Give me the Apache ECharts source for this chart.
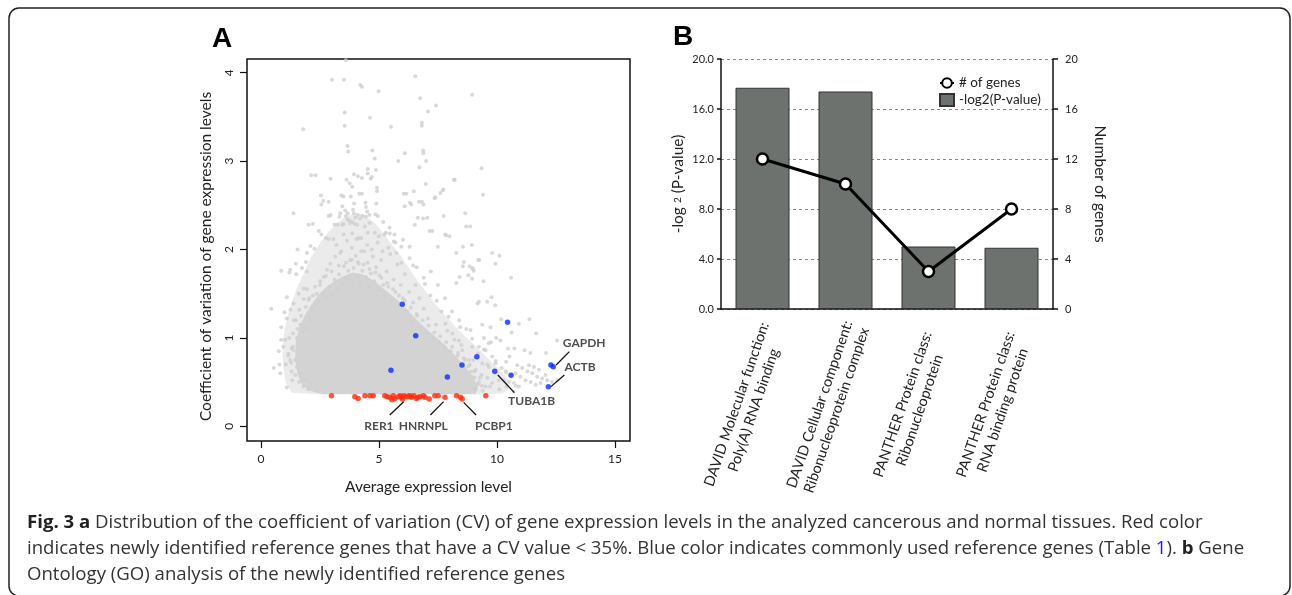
<!DOCTYPE html>
<html><head><meta charset="utf-8">
<script src="https://cdn.jsdelivr.net/npm/echarts@6/dist/echarts.min.js"></script>
<style>html,body{margin:0;padding:0;background:#fff}#c{width:1292px;height:595px}</style>
</head><body><div id="c"></div>
<script>
// ---------- Panel A data ----------
const xTicksA = [0, 5, 10, 15];
const yTicksA = [0, 1, 2, 3, 4];
// outline of the solid dense part of the grey cloud (data units)
const grayCore = [[2.6,0.365],[2.1,0.40],[1.75,0.47],[1.55,0.58],[1.45,0.76],[1.48,0.96],[1.65,1.14],[1.95,1.3],[2.3,1.44],[2.7,1.56],[3.1,1.64],[3.5,1.70],[3.9,1.74],[4.3,1.72],[4.7,1.66],[5.1,1.58],[5.5,1.49],[5.9,1.40],[6.3,1.29],[6.7,1.18],[7.1,1.08],[7.5,0.99],[7.9,0.89],[8.3,0.78],[8.7,0.66],[9.0,0.55],[9.2,0.45],[9.1,0.37],[8.8,0.365]];
// outline of the medium-density halo around it
const grayHalo = [[1.3,0.38],[1.05,0.5],[0.95,0.68],[0.9,0.86],[0.98,1.05],[1.1,1.22],[1.3,1.4],[1.55,1.58],[1.8,1.72],[2.1,1.9],[2.45,2.05],[2.8,2.18],[3.15,2.28],[3.5,2.36],[3.85,2.4],[4.2,2.4],[4.55,2.36],[4.9,2.28],[5.25,2.16],[5.6,2.04],[5.95,1.92],[6.3,1.78],[6.65,1.64],[7.0,1.52],[7.4,1.38],[7.8,1.26],[8.2,1.14],[8.6,1.03],[9.0,0.93],[9.4,0.83],[9.8,0.72],[10.2,0.62],[10.5,0.52],[10.55,0.42],[10.2,0.37],[9.5,0.36],[2.6,0.36]];
const grayPoints = [
[3.60,4.14],[3.01,3.92],[3.52,3.92],[4.21,3.86],[4.28,3.84],[4.99,3.79],[6.54,3.96],[6.75,3.71],[7.42,3.63],[7.08,3.56],[3.55,3.55],[4.62,3.49],[8.95,3.75],
[3.55,3.40],[5.51,3.39],[6.82,3.43],[6.82,3.40],[1.79,3.36],[3.67,3.17],[3.70,3.11],[4.72,3.12],[4.82,3.03],[6.88,3.12],[6.88,3.09],[6.10,3.09],[7.00,3.00],[5.82,3.00],[9.35,2.92],
[6.72,2.93],[4.53,2.91],[4.53,2.86],[4.87,2.90],[2.13,2.84],[2.32,2.84],[2.95,2.80],[3.63,2.79],[3.76,2.75],[3.87,2.71],[3.94,2.85],[4.11,2.83],[4.28,2.81],[4.65,2.80],[4.70,2.82],[6.99,2.74],[4.92,2.70],[4.92,2.66],[3.41,2.61],[3.50,2.60],[4.17,2.63],[4.28,2.63],[3.81,2.60],[6.05,2.63],[6.16,2.63],[6.48,2.66],[7.39,2.59],[2.54,2.61],[2.56,2.51],[2.64,2.55],[2.87,2.54],[4.43,2.53],[6.31,2.53],[6.37,2.51],[6.82,2.54],[6.89,2.51],[8.21,2.79],[7.73,2.68],[7.60,2.64],[9.41,2.62],
[6.09,2.49],[1.38,2.41],[2.02,2.28],[2.20,2.29],[2.87,2.38],[3.36,2.41],[3.33,2.37],[3.57,2.44],[3.68,2.41],[3.90,2.45],[3.94,2.41],[3.60,2.38],[3.66,2.34],[3.74,2.33],[4.00,2.36],[4.10,2.39],[4.20,2.35],[4.30,2.38],[4.50,2.43],[4.60,2.39],[4.45,2.37],[4.85,2.40],[5.18,2.31],[7.05,2.36],[6.65,2.36],[6.52,2.28],[7.26,2.21],[3.12,2.28],[3.25,2.28],[3.45,2.28],[3.50,2.29],[3.77,2.30],[3.88,2.31],[3.97,2.29],[4.08,2.28],[2.56,2.17],[2.76,2.13],[2.87,2.12],[3.07,2.12],[3.50,2.17],[3.87,2.18],[4.14,2.13],[4.25,2.13],[4.53,2.19],[4.82,2.19],[5.00,2.15],[5.29,2.19],[5.23,2.17],[5.66,2.17],[2.10,2.04],[2.27,2.01],[1.55,2.00],[7.74,2.38],[8.66,2.41],[8.87,2.26],[7.81,2.17],[7.99,2.15],[8.94,2.05],
[6.87,2.35],[6.70,2.54],[7.36,2.58],[7.71,2.67],[8.18,2.79],[7.15,2.21],[7.85,2.16],[7.50,2.03],[8.28,1.96],[8.56,2.03],[8.70,2.26],[8.84,1.81],
[5.46,2.18],[5.63,2.09],[6.02,2.11],[6.30,2.03],[5.74,1.96],[4.61,2.30],[4.40,2.26],[4.89,2.52],
[2.45,1.42],[2.62,1.51],[2.78,1.46],[2.90,1.58],[3.05,1.49],[3.12,1.66],[3.25,1.55],[3.31,1.72],[3.44,1.62],[3.52,1.81],[3.60,1.68],[3.70,1.76],[3.78,1.88],[3.85,1.65],[3.93,1.79],[4.02,1.93],[4.08,1.70],[4.15,1.84],[4.22,1.62],[4.30,1.76],[4.38,1.98],[4.45,1.69],[4.52,1.85],[4.60,1.58],[4.66,1.73],[4.74,1.92],[4.80,1.64],[4.88,1.80],[4.95,1.55],[5.02,1.71],[5.10,1.88],[5.18,1.60],[5.25,1.47],[5.33,1.75],[5.40,1.58],[5.48,1.95],[5.55,1.42],[5.62,1.66],[5.70,1.52],[5.78,1.83],[5.85,1.37],[5.93,1.60],[6.02,1.45],[6.10,1.72],[6.20,1.30],[6.28,1.52],[6.36,1.18],[6.45,1.40],[6.55,1.60],[6.62,1.25],[6.72,1.45],[6.80,1.12],[6.90,1.33],[7.00,1.05],[7.08,1.22],[7.18,1.48],[7.30,1.00],[7.42,1.15],[7.55,0.95],[7.65,1.30],[7.78,0.90],[7.90,1.08],[8.05,0.85],[8.20,0.98],[8.35,0.80],[8.50,0.92],[8.65,0.75],[8.80,0.68],
[3.20,2.05],[3.40,1.98],[3.65,2.10],[3.85,2.02],[4.05,2.12],[4.25,1.98],[4.50,2.05],[4.70,2.00],[4.95,2.08],[5.15,1.98],[5.40,2.02],[5.70,2.08],[5.95,1.85],[6.30,1.90],[6.60,1.80],[6.90,1.68],[7.20,1.75],[7.50,1.60],[7.80,1.45],[8.10,1.30],[8.40,1.20],[8.70,1.10],
[1.20,1.00],[1.35,0.90],[1.30,0.62],[1.45,0.75],[1.55,1.10],[1.62,0.50],[1.70,1.25],[1.80,0.45],[1.90,1.35],[2.00,0.42],[2.05,1.45],[2.30,1.38],[2.15,1.20],[1.40,1.20],[1.15,0.80],[1.05,0.70],[0.95,0.90],[1.25,1.32],[2.40,0.40],[1.95,1.55],
[8.90,0.62],[9.05,0.55],[9.20,0.48],[9.10,0.42],[9.35,0.58],[9.00,0.75],[9.20,0.82],[8.95,0.90],[9.40,0.40],[9.60,0.55],[9.70,0.45],[9.90,0.60],[10.10,0.42],[10.20,0.66],[10.40,0.45],[9.60,0.70],[9.45,1.00],[9.75,0.95],
[0.44,1.33],[0.86,1.76],[1.21,1.74],[1.24,1.77],[1.48,1.84],[1.74,1.79],[1.95,1.75],[1.91,1.86],[1.00,1.29],[1.10,1.22],[0.86,0.98],[1.03,0.98],[0.54,0.66],[0.79,0.70],[1.24,0.75],[1.17,0.82],[1.38,0.86],[1.52,0.67],[1.67,0.60],[1.45,0.58],[1.88,0.53],[2.09,0.50],[1.52,1.00],[1.74,1.07],[1.67,1.15],[2.02,1.43],[2.16,1.33],[2.37,1.50],[2.30,1.58],[2.51,1.64],[2.66,1.69],[2.80,1.77],[2.94,1.84],[3.15,1.92],[3.36,1.96],[1.81,1.56],[1.60,1.50],[1.38,1.39],[2.09,1.22],[1.88,1.11],
[9.80,1.96],[10.11,1.93],[9.21,1.88],[8.56,1.81],[8.95,1.79],[9.02,1.76],[10.60,1.68],[9.43,1.64],[8.42,1.69],[8.28,1.62],[9.77,1.46],[9.18,1.39],[9.93,1.37],[10.18,1.21],[11.38,1.21],[10.93,1.16],[11.66,1.05],[10.62,1.06],[12.55,0.97],[9.97,1.00],[10.15,0.97],[10.47,0.88],[10.74,0.88],[11.17,0.86],[11.42,0.83],[12.08,0.83],[10.53,0.79],[10.39,0.73],[9.94,1.84],[8.79,1.71],[8.95,1.67],[9.24,1.41],[9.59,1.41],[8.60,1.86],[9.25,1.88],[8.99,1.78],
[9.24,0.90],[9.52,0.86],[9.66,0.94],[9.80,0.79],[9.38,0.71],[9.66,0.67],[9.94,0.71],[10.08,0.52],[9.80,0.49],[9.52,0.45],[9.24,0.50],[8.95,0.56],[9.10,0.64],[8.81,0.75],[8.53,0.86],[8.39,0.97],[8.11,1.05],[8.88,1.09],[9.38,1.15],[9.73,1.12],[7.82,1.16],
[10.86,0.69],[11.07,0.66],[11.29,0.62],[11.50,0.60],[11.71,0.56],[11.92,0.54],[12.13,0.52],[11.85,0.49],[11.64,0.47],[11.43,0.50],[11.21,0.52],[11.00,0.56],[10.79,0.60],[10.58,0.58],[10.37,0.62],[10.30,0.52],[10.51,0.50],[10.72,0.49],[10.93,0.45],[12.34,0.50],[12.56,0.52],[12.06,0.58],[11.78,0.64],[11.57,0.67],[11.36,0.69],
[2.20,1.48],[2.50,1.60],[2.75,1.70],[3.00,1.75],[3.30,1.82],[3.60,1.85],[3.85,1.88],[4.10,1.86],[4.35,1.83],[4.60,1.78],[4.85,1.74],[5.10,1.68],[5.35,1.62],[5.60,1.55],[5.85,1.48],[6.10,1.42],[6.35,1.34],[6.60,1.27],[6.85,1.20],[7.10,1.14],[7.35,1.06],[7.60,1.02],[7.85,0.95],[8.10,0.90],[8.35,0.83],[8.60,0.77],[8.85,0.70],[9.05,0.62],[9.28,0.55],[9.36,0.46],
[1.33,0.52],[1.28,0.72],[1.30,0.88],[1.36,1.05],[1.48,1.20],[1.63,1.32],[1.82,1.44],
[1.10,0.44],[0.82,0.60],[0.76,0.85],[0.86,1.12],[1.10,1.46],[1.50,1.72],[1.95,1.96],[2.45,2.21],[2.95,2.39],[3.45,2.49],[3.95,2.52],[4.45,2.48],[4.95,2.38],[5.45,2.25],[5.95,2.03],[6.45,1.82],[6.95,1.61],[7.45,1.42],[7.95,1.24],[8.45,1.12],[8.95,0.99],[9.45,0.87],[9.95,0.74],[10.40,0.61],[10.80,0.46],[10.70,0.39]
];
const redPoints = [[2.99,0.346],[3.98,0.335],[4.12,0.316],[4.41,0.346],[4.62,0.346],[4.76,0.346],[5.25,0.346],[5.35,0.335],[5.46,0.328],[5.61,0.346],[5.68,0.316],[5.82,0.335],[5.96,0.328],[6.07,0.346],[6.17,0.335],[6.28,0.346],[6.38,0.328],[6.48,0.346],[6.59,0.316],[6.74,0.335],[6.88,0.346],[6.95,0.328],[7.13,0.309],[7.37,0.346],[7.51,0.346],[7.80,0.328],[8.29,0.346],[8.46,0.328],[8.53,0.309],[9.53,0.346],[5.55,0.30],[6.00,0.31],[6.65,0.33],[5.90,0.345],[6.35,0.34]];
const bluePoints = [[5.99,1.38],[6.56,1.025],[5.51,0.633],[7.90,0.558],[8.52,0.694],[9.15,0.788],[9.91,0.622],[10.45,1.176],[10.60,0.577],[12.29,0.694],[12.39,0.675],[12.18,0.449]];
const geneNames = ['GAPDH','ACTB','TUBA1B','RER1','HNRNPL','PCBP1'];
const geneLabelPos = [[13.70,0.946],[13.52,0.674],[11.47,0.29],[5.0,0.007],[6.88,0.007],[9.87,0.007]];
const arrowFrom = [[13.07,0.845],[12.86,0.581],[10.74,0.381],[5.46,0.128],[7.18,0.128],[9.12,0.128]];
const arrowTo = [[12.51,0.694],[12.29,0.449],[10.04,0.581],[6.05,0.279],[7.74,0.279],[8.59,0.271]];

// ---------- Panel B data ----------
const categoriesB = ['DAVID Molecular function:\nPoly(A) RNA binding','DAVID Cellular component:\nRibonucleoprotein complex','PANTHER Protein class:\nRibonucleoprotein','PANTHER Protein class:\nRNA binding protein'];
const pValueBars = [17.7, 17.4, 5.0, 4.9];
const geneCounts = [12, 10, 3, 8];

const FONT = 'Lato';
const CAP = '18.6px "Open Sans"';
const chart = echarts.init(document.getElementById('c'), null, {renderer:'canvas'});
const polygonSeries = (pts, fill) => ({type:'custom', xAxisIndex:0, yAxisIndex:0, data:[0], silent:true, z:1,
  renderItem:(params, api)=>({type:'polygon', shape:{points:pts.map(p=>api.coord(p))}, style:{fill:fill}})});
chart.setOption({
  animation:false,
  backgroundColor:'#fff',
  grid:[
    {left:247, top:59, width:383, height:382, show:true, borderColor:'#111', borderWidth:1.5, backgroundColor:'transparent'},
    {left:721, top:59, width:332, height:250}
  ],
  xAxis:[
    {type:'value', gridIndex:0, min:-0.59, max:15.64,
     axisLine:{show:false, onZero:false}, splitLine:{show:false},
     axisTick:{show:true, customValues:xTicksA, length:7, lineStyle:{color:'#111', width:1.2}},
     axisLabel:{customValues:xTicksA, margin:12, fontSize:12, color:'#222', fontFamily:FONT},
     name:'Average expression level', nameLocation:'middle', nameGap:38,
     nameTextStyle:{fontSize:15.5, color:'#222', fontFamily:FONT, padding:[0,20,0,0]}},
    {type:'category', gridIndex:1, data:categoriesB, boundaryGap:true,
     axisLine:{lineStyle:{color:'#111', width:1.5}},
     axisTick:{length:5, lineStyle:{color:'#111', width:1.5}},
     axisLabel:{interval:0, rotate:71, margin:8, color:'#222', padding:[26,0,0,0],
       formatter:v=>v.split('\n').map(s=>'{t|'+s+'}').join('\n'),
       rich:{t:{width:182, align:'center', fontSize:14.5, lineHeight:18, fontFamily:FONT, color:'#222'}}}}
  ],
  yAxis:[
    {type:'value', gridIndex:0, min:-0.166, max:4.155,
     axisLine:{show:false, onZero:false}, splitLine:{show:false},
     axisTick:{show:true, customValues:yTicksA, length:7, lineStyle:{color:'#111', width:1.2}},
     axisLabel:{customValues:yTicksA, rotate:90, margin:12, fontSize:12, color:'#222', fontFamily:FONT},
     name:'Coefficient of variation of gene expression levels', nameLocation:'middle', nameRotate:90, nameGap:33,
     nameTextStyle:{fontSize:15.5, color:'#222', fontFamily:FONT, padding:[0,13,0,0]}},
    {type:'value', gridIndex:1, min:0, max:20, interval:4, position:'left',
     axisLine:{show:true, lineStyle:{color:'#111', width:1.5}},
     axisTick:{show:true, length:4, lineStyle:{color:'#111', width:1.5}},
     axisLabel:{margin:7, fontSize:11, color:'#222', fontFamily:FONT, formatter:v=>v.toFixed(1)},
     splitLine:{show:true, lineStyle:{color:'#888', type:[3,3], width:1}},
     name:'-log {s|2} (P-value)', nameLocation:'middle', nameRotate:90, nameGap:35,
     nameTextStyle:{fontSize:15.5, color:'#222', fontFamily:FONT, rich:{s:{fontSize:10, color:'#222', fontFamily:FONT}}}},
    {type:'value', gridIndex:1, min:0, max:20, interval:4, position:'right',
     axisLine:{show:true, lineStyle:{color:'#111', width:1.5}},
     axisTick:{show:true, length:5, lineStyle:{color:'#111', width:1.5}},
     axisLabel:{margin:12, fontSize:11, color:'#222', fontFamily:FONT},
     splitLine:{show:false},
     name:'Number of genes', nameLocation:'middle', nameRotate:-90, nameGap:39,
     nameTextStyle:{fontSize:15.5, color:'#222', fontFamily:FONT}}
  ],
  legend:{orient:'vertical', left:934, top:71, itemWidth:14, itemHeight:12, itemGap:3,
    textStyle:{fontSize:13.5, color:'#222', fontFamily:FONT},
    data:[{name:'# of genes'},{name:'-log2(P-value)', icon:'rect'}]},
  series:[
    polygonSeries(grayHalo, '#ebebeb'),
    polygonSeries(grayCore, '#d3d3d3'),
    {type:'scatter', xAxisIndex:0, yAxisIndex:0, data:grayPoints, symbolSize:4, itemStyle:{color:'#d0d0d0'}, silent:true, z:2},
    {type:'scatter', xAxisIndex:0, yAxisIndex:0, data:redPoints, symbolSize:5.5, itemStyle:{color:'#ff2a0d'}, silent:true, z:3},
    {type:'scatter', xAxisIndex:0, yAxisIndex:0, data:bluePoints, symbolSize:5.5, itemStyle:{color:'#0a2dff'}, silent:true, z:4},
    {type:'scatter', xAxisIndex:0, yAxisIndex:0, symbolSize:0, silent:true, z:5,
     data:geneNames.map((n,i)=>({name:n, value:geneLabelPos[i]})),
     label:{show:true, position:'inside', formatter:'{b}', fontSize:12, fontWeight:'bold', color:'#222', fontFamily:FONT},
     markLine:{silent:true, symbol:['none','arrow'], symbolSize:[0,7], label:{show:false},
       lineStyle:{color:'#111', width:1.3, type:'solid'},
       data:arrowFrom.map((f,i)=>[{coord:f},{coord:arrowTo[i]}])}},
    {name:'-log2(P-value)', type:'bar', xAxisIndex:1, yAxisIndex:1, data:pValueBars, barWidth:54,
     itemStyle:{color:'#6d726f', borderColor:'#333', borderWidth:1}},
    {name:'# of genes', type:'line', xAxisIndex:1, yAxisIndex:2, data:geneCounts, symbol:'circle', symbolSize:11, z:5,
     lineStyle:{color:'#000', width:3}, itemStyle:{color:'#fff', borderColor:'#000', borderWidth:2.5}}
  ],
  graphic:[
    {type:'rect', shape:{x:9, y:8, width:1281, height:588, r:10}, style:{fill:'none', stroke:'#222', lineWidth:1.5}, silent:true},
    {type:'text', x:222, y:39, style:{text:'A', font:'bold 28px "Liberation Sans", Arial', fill:'#000', align:'center', verticalAlign:'middle'}},
    {type:'text', x:683, y:37, style:{text:'B', font:'bold 28px "Liberation Sans", Arial', fill:'#000', align:'center', verticalAlign:'middle'}},
    {type:'text', x:27, y:523, style:{text:'{b|Fig. 3 a} Distribution of the coefficient of variation (CV) of gene expression levels in the analyzed cancerous and normal tissues. Red color',
      font:CAP, fill:'#333', verticalAlign:'middle', rich:{b:{font:'bold '+CAP, fill:'#222'}}}},
    {type:'text', x:27, y:549, style:{text:'indicates newly identified reference genes that have a CV value < 35%. Blue color indicates commonly used reference genes (Table {l|1}). {b|b} Gene',
      font:CAP, fill:'#333', verticalAlign:'middle', rich:{b:{font:'bold '+CAP, fill:'#222'}, l:{font:CAP, fill:'#1a14ff'}}}},
    {type:'text', x:27, y:575, style:{text:'Ontology (GO) analysis of the newly identified reference genes',
      font:CAP, fill:'#333', verticalAlign:'middle'}}
  ]
});
</script></body></html>
